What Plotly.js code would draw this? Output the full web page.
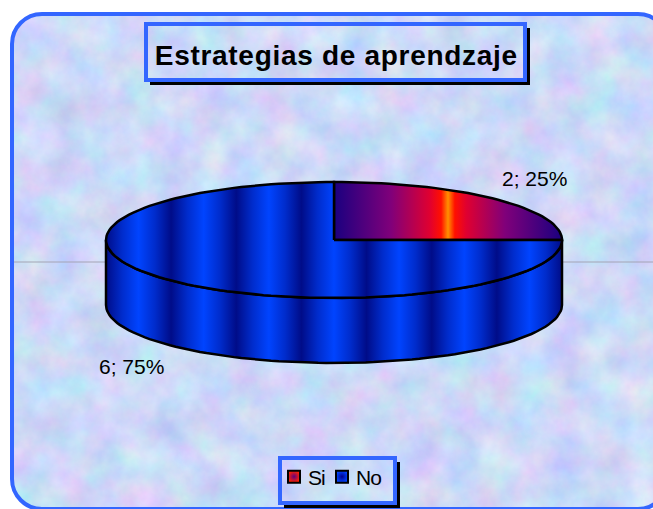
<!DOCTYPE html>
<html>
<head>
<meta charset="utf-8">
<script src="https://cdn.plot.ly/plotly-3.0.1.min.js"></script>
<style>
html,body{margin:0;padding:0;width:653px;height:509px;overflow:hidden;background:#fff}
#panel{position:absolute;left:10px;top:12px;width:652px;height:491px;border:4px solid #3366ff;border-radius:32px;
background-image:url("data:image/svg+xml,%3Csvg xmlns='http://www.w3.org/2000/svg' width='660' height='500'%3E%3Cfilter id='n' color-interpolation-filters='sRGB' x='0' y='0' width='100%25' height='100%25'%3E%3CfeTurbulence type='fractalNoise' baseFrequency='0.028' numOctaves='5' seed='7'/%3E%3CfeColorMatrix values='0.28 0 0 0 0.66 0 0.22 0 0 0.74 0 0 0.1 0 0.92 0 0 0 0 1'/%3E%3C/filter%3E%3Crect width='660' height='500' filter='url(%23n)'/%3E%3C/svg%3E");}
#chart{position:absolute;left:0;top:0;width:653px;height:509px}
#chart .gtitle{letter-spacing:.7px}
#chart .legendtext{letter-spacing:-1px}
</style>
</head>
<body>
<div id="panel"></div>
<div id="chart"></div>
<script>
var chartTitle = 'Estrategias de aprendzaje';
var categories = ['Si', 'No'];
var values = [2, 6];

// geometry of the tilted pie, in the pixel-like units of the hidden axes
var pie = {cx: 334, cy: 240, rx: 228, ry: 58, depth: 65};
var total = values.reduce(function (a, b) { return a + b; }, 0);

function point(deg, drop) {
  var t = deg * Math.PI / 180;
  return [pie.cx + pie.rx * Math.sin(t), pie.cy - pie.ry * Math.cos(t) + (drop || 0)];
}
function arc(from, to, drop) {
  var pts = [], n = Math.max(2, Math.round(Math.abs(to - from) / 2));
  for (var i = 0; i <= n; i++) pts.push(point(from + (to - from) * i / n, drop));
  return pts;
}
function stripes(n) {
  var dark = '#000c88', mid = '#002ccc', bright = '#0044ff', cs = [];
  for (var i = 0; i < n; i++) {
    cs.push([i / n, dark], [(i + .25) / n, mid], [(i + .5) / n, bright], [(i + .75) / n, mid]);
  }
  cs.push([1, dark]);
  return cs;
}
var fireScale = [[0, '#1a0080'], [.25, '#80007a'], [.42, '#e00030'], [.47, '#ff1000'], [.5, '#ff9000'], [.53, '#ff1000'], [.58, '#e00030'], [.75, '#80007a'], [1, '#1a0080']];

function sliceTrace(name, from, to, grad) {
  var pts = [[pie.cx, pie.cy]].concat(arc(from, to));
  pts.push([pie.cx, pie.cy]);
  return {
    type: 'scatter', mode: 'lines', name: name, showlegend: false, fill: 'toself',
    x: pts.map(function (p) { return p[0]; }), y: pts.map(function (p) { return p[1]; }),
    line: {color: '#000', width: 2.5}, fillgradient: grad, hoverinfo: 'skip'
  };
}
function legendKey(name, center, edge) {
  return {
    type: 'scatter', mode: 'markers', name: name, x: [null], y: [null], hoverinfo: 'skip',
    marker: {symbol: 'square', size: 12, color: center, gradient: {type: 'radial', color: edge}, line: {color: '#000', width: 2}}
  };
}

var blueGrad = {type: 'horizontal', colorscale: stripes(7), start: pie.cx - pie.rx, stop: pie.cx + pie.rx};
var siSweep = values[0] / total * 360;

// front wall
var upperEdge = arc(90, 270), lowerEdge = arc(270, 90, pie.depth);
var wallPts = upperEdge.concat(lowerEdge, [upperEdge[0]]);
var wall = {
  type: 'scatter', mode: 'lines', name: categories[1], showlegend: false, fill: 'toself',
  x: wallPts.map(function (p) { return p[0]; }), y: wallPts.map(function (p) { return p[1]; }),
  line: {color: '#000', width: 2.5}, fillgradient: blueGrad, hoverinfo: 'skip'
};
var traces = [
  wall,
  sliceTrace(categories[0], 0, siSweep, {type: 'horizontal', colorscale: fireScale, start: pie.cx, stop: pie.cx + pie.rx}),
  sliceTrace(categories[1], siSweep, 360, blueGrad),
  legendKey(categories[0], '#ff2000', '#600080'),
  legendKey(categories[1], '#0044ff', '#000090')
];

function label(i) { return values[i] + '; ' + Math.round(values[i] / total * 100) + '%'; }
var FRAME = '#3366ff';
var FONT = '"Liberation Sans", Arial, sans-serif';

function box(x0, y0, x1, y1) {
  return {type: 'rect', x0: x0, y0: y0, x1: x1, y1: y1, line: {color: FRAME, width: 4}, fillcolor: 'rgba(0,0,0,0)', layer: 'above'};
}
function shadow(x0, y0, x1, y1, d) {
  return {type: 'path', path: 'M' + (x0 + d) + ' ' + y1 + ' L' + x1 + ' ' + y1 + ' L' + x1 + ' ' + (y0 + d) +
    ' L' + (x1 + d + 1) + ' ' + (y0 + d) + ' L' + (x1 + d + 1) + ' ' + (y1 + d + 1) + ' L' + (x0 + d) + ' ' + (y1 + d + 1) + ' Z',
    fillcolor: '#000', line: {width: 0}, layer: 'above'};
}

var layout = {
  width: 653, height: 509,
  margin: {l: 0, r: 0, t: 0, b: 0},
  paper_bgcolor: 'rgba(0,0,0,0)', plot_bgcolor: 'rgba(0,0,0,0)',
  xaxis: {range: [0, 653], visible: false, fixedrange: true},
  yaxis: {range: [509, 0], visible: false, fixedrange: true},
  title: {text: '<b>' + chartTitle + '</b>', x: 0.515, xanchor: 'center', y: 1 - 55 / 509, yanchor: 'middle',
    font: {family: FONT, size: 28, color: '#000'}},
  font: {family: FONT, color: '#000'},
  showlegend: true,
  legend: {orientation: 'h', x: 338 / 653, xanchor: 'center', y: 1 - 477 / 509, yanchor: 'middle',
    bgcolor: 'rgba(0,0,0,0)', borderwidth: 0, font: {family: FONT, size: 21, color: '#000'}, traceorder: 'normal'},
  shapes: [
    {type: 'line', x0: 14, x1: 653, y0: 262, y1: 262, line: {color: '#a4a4b4', width: 1}, layer: 'below'},
    shadow(146, 24, 525, 80, 4), box(146, 24, 525, 80),
    shadow(280, 458, 395, 503, 4), box(280, 458, 395, 503)
  ],
  annotations: [
    {x: 534, y: 178, text: label(0), showarrow: false, font: {family: FONT, size: 21, color: '#000'}},
    {x: 131, y: 366, text: label(1), showarrow: false, font: {family: FONT, size: 21, color: '#000'}}
  ]
};

// The reference's legend keys sit much closer together than Plotly's default spacing.
var keyCentres = [294, 342];
var keyToText = 14;
function tightenLegend() {
  var groups = document.querySelectorAll('#chart .legend .traces');
  groups.forEach(function (g, i) {
    var sym = g.querySelector('.legendpoints path') || g.querySelector('.legendsymbols');
    var text = g.querySelector('.legendtext');
    var r = sym.getBoundingClientRect();
    var dx = keyCentres[i] - (r.left + r.right) / 2;
    var m = /translate\(([-\d.]+)[ ,]*([-\d.]*)/.exec(g.getAttribute('transform') || '');
    var tx = m ? parseFloat(m[1]) : 0, ty = m && m[2] ? parseFloat(m[2]) : 0;
    g.setAttribute('transform', 'translate(' + (tx + dx) + ',' + ty + ')');
    var rr = sym.getBoundingClientRect();
    var tr = text.getBoundingClientRect();
    var cur = parseFloat(text.getAttribute('x')) || 0;
    text.setAttribute('x', cur + ((rr.left + rr.right) / 2 + keyToText - tr.left));
  });
}
Plotly.newPlot('chart', traces, layout, {displayModeBar: false, staticPlot: true}).then(tightenLegend);
</script>
</body>
</html>
